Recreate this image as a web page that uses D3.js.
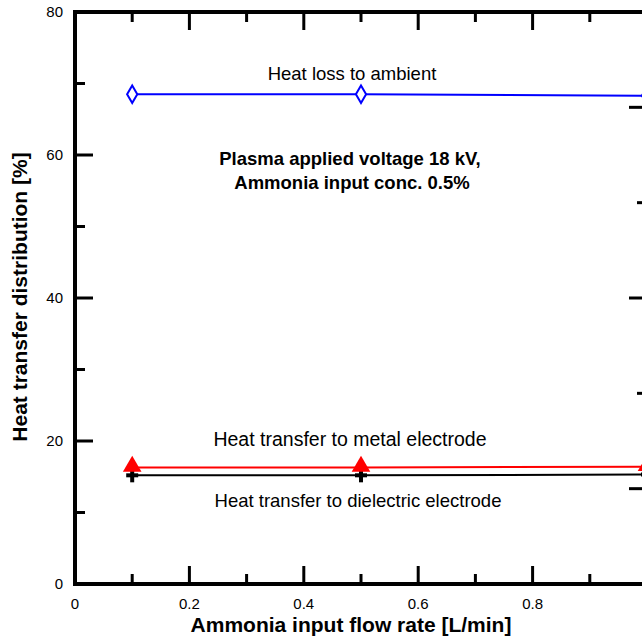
<!DOCTYPE html>
<html>
<head>
<meta charset="utf-8">
<script src="https://cdn.jsdelivr.net/npm/d3@7"></script>
<style>
  html, body { margin: 0; padding: 0; background: #fff; overflow: hidden; }
  svg { display: block; font-family: "Liberation Sans", Arial, Helvetica, sans-serif; }
</style>
</head>
<body>
<svg id="chart" width="642" height="641"></svg>
<script>
// Ammonia input flow rate [L/min]
const flowRates = [0.1, 0.5, 1.0];
// Heat transfer distribution [%]
const heatLossAmbient = [68.5, 68.5, 68.3];
const heatMetalElectrode = [16.3, 16.3, 16.4];
const heatDielectricElectrode = [15.2, 15.2, 15.3];

const xMajorTicks = [0, 0.2, 0.4, 0.6, 0.8, 1.0];
const xMinorTicks = [0.1, 0.3, 0.5, 0.7, 0.9];
const xTickLabels = ["0", "0.2", "0.4", "0.6", "0.8"];
const yMajorTicks = [0, 20, 40, 60, 80];
const yMinorTicks = [10, 30, 50, 70];
// secondary (right) axis ticks
const y2MajorTicks = [1, 3, 5];
const y2MinorTicks = [0, 2, 4, 6];

const svg = d3.select("#chart");
const plotLeft = 75, plotRight = 647, plotTop = 12, plotBottom = 584;

const x = d3.scaleLinear().domain([0, 1.0]).range([plotLeft, plotRight]);
const y = d3.scaleLinear().domain([0, 80]).range([plotBottom, plotTop]);
const y2 = d3.scaleLinear().domain([0, 6]).range([plotBottom, plotTop]);

const majorLen = 18, minorLen = 10, axisW = 4, tickW = 3;

// ticks (drawn inward)
const ticks = svg.append("g").attr("stroke", "#000").attr("stroke-width", tickW);
function vTicks(vals, len) {
  vals.forEach(v => {
    ticks.append("line").attr("x1", x(v)).attr("x2", x(v)).attr("y1", plotBottom).attr("y2", plotBottom - len);
    ticks.append("line").attr("x1", x(v)).attr("x2", x(v)).attr("y1", plotTop).attr("y2", plotTop + len);
  });
}
vTicks(xMajorTicks, majorLen);
vTicks(xMinorTicks, minorLen);
yMajorTicks.forEach(v => ticks.append("line").attr("x1", plotLeft).attr("x2", plotLeft + majorLen).attr("y1", y(v)).attr("y2", y(v)));
yMinorTicks.forEach(v => ticks.append("line").attr("x1", plotLeft).attr("x2", plotLeft + minorLen).attr("y1", y(v)).attr("y2", y(v)));
y2MajorTicks.forEach(v => ticks.append("line").attr("x1", plotRight).attr("x2", plotRight - majorLen).attr("y1", y2(v)).attr("y2", y2(v)));
y2MinorTicks.forEach(v => ticks.append("line").attr("x1", plotRight).attr("x2", plotRight - minorLen).attr("y1", y2(v)).attr("y2", y2(v)));

// frame
svg.append("rect")
  .attr("x", plotLeft).attr("y", plotTop)
  .attr("width", plotRight - plotLeft).attr("height", plotBottom - plotTop)
  .attr("fill", "none").attr("stroke", "#000").attr("stroke-width", axisW);

// tick labels
const xLab = svg.append("g").attr("font-size", 15).attr("text-anchor", "middle").attr("fill", "#000");
xTickLabels.forEach((t, i) => {
  xLab.append("text").attr("x", x(xMajorTicks[i])).attr("y", 609).text(t);
});
const yLab = svg.append("g").attr("font-size", 15).attr("text-anchor", "end").attr("fill", "#000");
yMajorTicks.forEach(v => {
  yLab.append("text").attr("x", 63).attr("y", y(v) + 5).text(v);
});

// axis titles
svg.append("text")
  .attr("x", 351).attr("y", 632)
  .attr("text-anchor", "middle").attr("font-weight", "bold").attr("font-size", 21)
  .text("Ammonia input flow rate [L/min]");
svg.append("text")
  .attr("transform", "translate(27,297) rotate(-90)")
  .attr("text-anchor", "middle").attr("font-weight", "bold").attr("font-size", 21)
  .text("Heat transfer distribution [%]");

const line = d3.line().x((d, i) => x(flowRates[i])).y(d => y(d));

// dielectric electrode (black, plus markers)
svg.append("path").datum(heatDielectricElectrode)
  .attr("d", line).attr("fill", "none").attr("stroke", "#000").attr("stroke-width", 2);
const plus = svg.append("g").attr("stroke", "#000").attr("stroke-width", 4);
heatDielectricElectrode.forEach((d, i) => {
  const cx = x(flowRates[i]), cy = y(d);
  plus.append("line").attr("x1", cx - 6).attr("x2", cx + 6).attr("y1", cy).attr("y2", cy);
  plus.append("line").attr("x1", cx).attr("x2", cx).attr("y1", cy - 7).attr("y2", cy + 7);
});

// metal electrode (red, filled triangles)
svg.append("path").datum(heatMetalElectrode)
  .attr("d", line).attr("fill", "none").attr("stroke", "#ff0000").attr("stroke-width", 2);
svg.append("g").selectAll("path").data(heatMetalElectrode).join("path")
  .attr("d", d3.symbol(d3.symbolTriangle).size(150)())
  .attr("transform", (d, i) => `translate(${x(flowRates[i])},${y(d) - 1})`)
  .attr("fill", "#ff0000");

// heat loss to ambient (blue, open diamonds)
svg.append("path").datum(heatLossAmbient)
  .attr("d", line).attr("fill", "none").attr("stroke", "#0000ff").attr("stroke-width", 2);
svg.append("g").selectAll("path").data(heatLossAmbient).join("path")
  .attr("d", d3.symbol(d3.symbolDiamond).size(90)())
  .attr("transform", (d, i) => `translate(${x(flowRates[i])},${y(d)})`)
  .attr("fill", "#fff").attr("stroke", "#0000ff").attr("stroke-width", 2);

// annotations
const ann = svg.append("g").attr("text-anchor", "middle").attr("fill", "#000");
ann.append("text").attr("x", 352).attr("y", 80).attr("font-size", 18.5).text("Heat loss to ambient");
ann.append("text").attr("x", 350).attr("y", 165).attr("font-size", 18.5).attr("font-weight", "bold").text("Plasma applied voltage 18 kV,");
ann.append("text").attr("x", 352).attr("y", 189).attr("font-size", 18.5).attr("font-weight", "bold").text("Ammonia input conc. 0.5%");
ann.append("text").attr("x", 350).attr("y", 446).attr("font-size", 19.5).text("Heat transfer to metal electrode");
ann.append("text").attr("x", 358).attr("y", 507).attr("font-size", 18.5).text("Heat transfer to dielectric electrode");
</script>
</body>
</html>
